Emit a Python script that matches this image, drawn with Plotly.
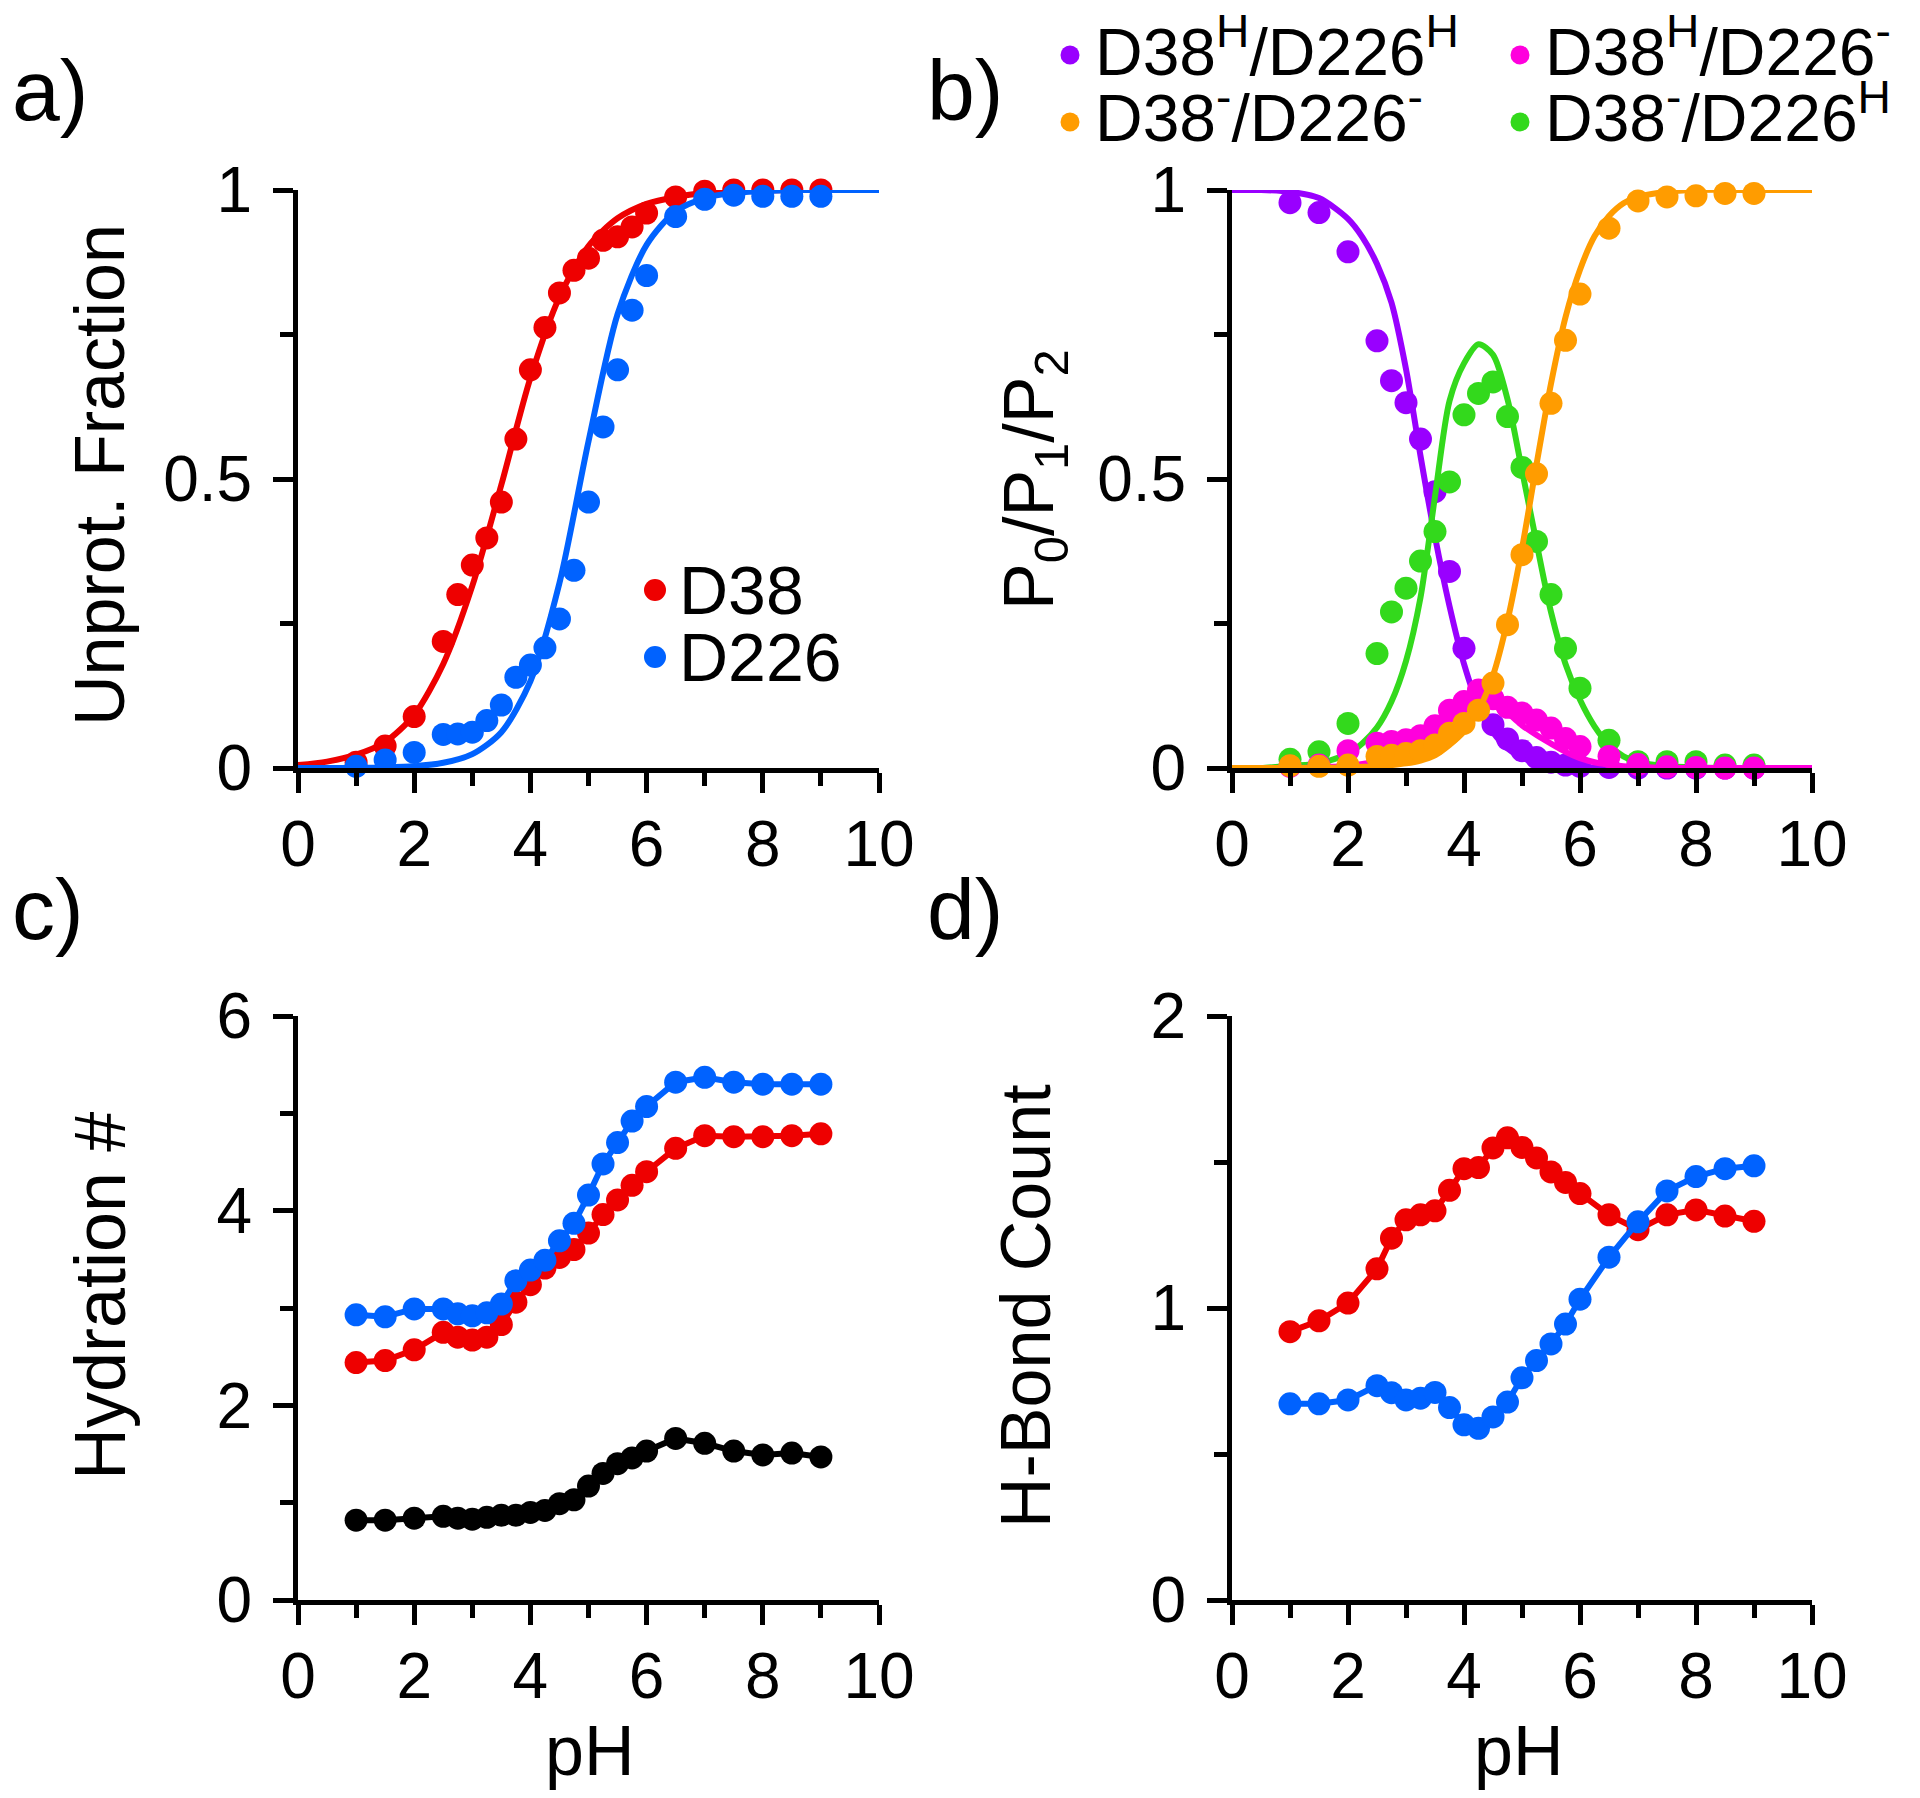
import plotly.graph_objects as go

# ---------------- data ----------------
ph_pts = [1, 1.5, 2, 2.5, 2.75, 3, 3.25, 3.5, 3.75, 4, 4.25, 4.5, 4.75, 5,
          5.25, 5.5, 5.75, 6, 6.5, 7, 7.5, 8, 8.5, 9]

# panel a: unprotonated fraction
d38_frac = [0.01, 0.038, 0.089, 0.219, 0.30, 0.351, 0.398, 0.46, 0.569, 0.689, 0.762, 0.822,
            0.861, 0.882, 0.913, 0.919, 0.936, 0.96, 0.988, 0.998, 1.0, 1.0, 1.0, 1.0]
d226_frac = [0.003, 0.014, 0.027, 0.058, 0.059, 0.062, 0.082, 0.109, 0.157, 0.178, 0.208, 0.258,
             0.342, 0.46, 0.59, 0.689, 0.792, 0.852, 0.954, 0.984, 0.991, 0.989, 0.989, 0.989]
fit_ph_a = [0, 0.5, 1, 1.5, 2, 2.5, 3, 3.5, 4, 4.5, 5, 5.5, 6, 6.5, 7, 7.5, 8, 8.5, 9, 9.5, 10]
d38_fit = [0.005, 0.011, 0.023, 0.045, 0.092, 0.18, 0.315, 0.49, 0.675, 0.815, 0.903, 0.951,
           0.976, 0.988, 0.995, 0.998, 0.999, 1, 1, 1, 1]
d226_fit = [0, 0, 0.0004, 0.001, 0.003, 0.009, 0.024, 0.062, 0.15, 0.32, 0.565, 0.785, 0.905,
            0.963, 0.986, 0.995, 0.998, 1, 1, 1, 1]

# panel b: microstate populations
p_hh = [0.978, 0.961, 0.893, 0.739, 0.67, 0.632, 0.569, 0.478, 0.34, 0.207, 0.12, 0.075,
        0.05, 0.03, 0.018, 0.01, 0.005, 0.003, 0.001, 0, 0, 0, 0, 0]
p_hd = [0.003, 0.005, 0.03, 0.043, 0.046, 0.049, 0.056, 0.073, 0.10, 0.115, 0.135, 0.12,
        0.105, 0.095, 0.083, 0.069, 0.051, 0.037, 0.02, 0.006, 0.002, 0.001, 0, 0]
p_dd = [0.004, 0.003, 0.005, 0.02, 0.022, 0.025, 0.03, 0.04, 0.06, 0.077, 0.10, 0.147,
        0.248, 0.369, 0.509, 0.631, 0.74, 0.82, 0.934, 0.981, 0.988, 0.99, 0.994, 0.994]
p_dh = [0.015, 0.028, 0.077, 0.198, 0.27, 0.311, 0.358, 0.409, 0.495, 0.611, 0.648, 0.668,
        0.608, 0.52, 0.392, 0.30, 0.207, 0.138, 0.048, 0.011, 0.011, 0.011, 0.005, 0.005]
fit_ph_b = [0, 0.5, 1, 1.5, 2, 2.25, 2.5, 2.75, 3, 3.25, 3.5, 3.75, 4, 4.25, 4.5, 4.75, 5,
            5.25, 5.5, 5.75, 6, 6.25, 6.5, 6.75, 7, 7.5, 8, 9, 10]
hh_fit = [1.0, 1.0, 0.997, 0.986, 0.95, 0.918, 0.872, 0.805, 0.69, 0.54, 0.40, 0.28, 0.18,
          0.107, 0.062, 0.034, 0.018, 0.009, 0.005, 0.002, 0.001, 0.0005, 0, 0, 0, 0, 0, 0, 0]
dh_fit = [0, 0, 0.004, 0.008, 0.025, 0.043, 0.07, 0.115, 0.185, 0.295, 0.47, 0.635, 0.70,
          0.733, 0.715, 0.638, 0.515, 0.39, 0.27, 0.18, 0.118, 0.072, 0.04, 0.02, 0.01,
          0.003, 0.001, 0, 0]
hd_fit = [0, 0, 0, 0.001, 0.004, 0.007, 0.012, 0.02, 0.03, 0.044, 0.062, 0.082, 0.1, 0.112,
          0.108, 0.095, 0.074, 0.057, 0.042, 0.028, 0.017, 0.01, 0.006, 0.003, 0.002, 0, 0, 0, 0]
dd_fit = [0, 0, 0, 0, 0.001, 0.002, 0.003, 0.005, 0.008, 0.013, 0.022, 0.04, 0.063, 0.1,
          0.16, 0.255, 0.38, 0.525, 0.665, 0.78, 0.862, 0.92, 0.955, 0.977, 0.988, 0.997, 1, 1, 1]

# panel c: hydration numbers
hyd_d38 = [2.44, 2.46, 2.57, 2.75, 2.70, 2.67, 2.70, 2.83, 3.06, 3.24, 3.41, 3.52, 3.60, 3.77,
           3.96, 4.11, 4.26, 4.40, 4.64, 4.77, 4.76, 4.76, 4.77, 4.79]
hyd_d226 = [2.93, 2.91, 2.99, 2.99, 2.94, 2.92, 2.95, 3.04, 3.28, 3.39, 3.49, 3.69, 3.87, 4.16,
            4.48, 4.70, 4.92, 5.07, 5.32, 5.37, 5.32, 5.30, 5.30, 5.30]
hyd_other = [0.82, 0.82, 0.84, 0.86, 0.84, 0.83, 0.85, 0.87, 0.87, 0.90, 0.92, 0.99, 1.03, 1.17,
             1.30, 1.40, 1.46, 1.53, 1.66, 1.61, 1.53, 1.49, 1.51, 1.47]

# panel d: H-bond counts
hb_d38 = [0.919, 0.956, 1.017, 1.134, 1.239, 1.302, 1.319, 1.333, 1.403, 1.477, 1.481, 1.548,
          1.583, 1.550, 1.514, 1.466, 1.430, 1.392, 1.319, 1.268, 1.319, 1.336, 1.315, 1.297]
hb_d226 = [0.672, 0.672, 0.685, 0.734, 0.710, 0.685, 0.691, 0.711, 0.659, 0.600, 0.588, 0.627,
           0.678, 0.761, 0.820, 0.877, 0.945, 1.030, 1.174, 1.295, 1.401, 1.450, 1.477, 1.487]

# ---------------- style ----------------
OFF = 8                      # page body margin of the html page
W, H = 1920 - OFF, 1798 - OFF
FONT = "Liberation Sans, Arial, Helvetica, sans-serif"
RED, BLUE, BLACK = "#EE0000", "#0062FF", "#000000"
PURPLE, MAGENTA, ORANGE, GREEN = "#9900FF", "#FF00DD", "#FF9C00", "#33D91C"
MS = 23
LW = 6
TICK_FS = 64
TITLE_FS = 70


def px(x):
    return (x - OFF) / W


def py(y):
    return 1 - (y - OFF) / H


fig = go.Figure()


def pts(x, y, color, xa, ya, lines=False):
    fig.add_trace(go.Scatter(
        x=x, y=y, mode="lines+markers" if lines else "markers",
        marker=dict(color=color, size=MS, line=dict(width=0)),
        line=dict(color=color, width=LW),
        xaxis=xa, yaxis=ya, cliponaxis=False, showlegend=False))


def fit(x, y, color, xa, ya):
    fig.add_trace(go.Scatter(
        x=x, y=y, mode="lines", line=dict(color=color, width=LW, shape="spline", smoothing=0.8),
        xaxis=xa, yaxis=ya, cliponaxis=False, showlegend=False))


# panel a
fit(fit_ph_a, d38_fit, RED, "x", "y")
pts(ph_pts, d38_frac, RED, "x", "y")
fit(fit_ph_a, d226_fit, BLUE, "x", "y")
pts(ph_pts, d226_frac, BLUE, "x", "y")

# panel b
fit(fit_ph_b, hh_fit, PURPLE, "x2", "y2")
pts(ph_pts, p_hh, PURPLE, "x2", "y2")
fit(fit_ph_b, dh_fit, GREEN, "x2", "y2")
pts(ph_pts, p_dh, GREEN, "x2", "y2")
fit(fit_ph_b, hd_fit, MAGENTA, "x2", "y2")
pts(ph_pts, p_hd, MAGENTA, "x2", "y2")
fit(fit_ph_b, dd_fit, ORANGE, "x2", "y2")
pts(ph_pts, p_dd, ORANGE, "x2", "y2")

# panel c
pts(ph_pts, hyd_other, BLACK, "x3", "y3", lines=True)
pts(ph_pts, hyd_d38, RED, "x3", "y3", lines=True)
pts(ph_pts, hyd_d226, BLUE, "x3", "y3", lines=True)

# panel d
pts(ph_pts, hb_d38, RED, "x4", "y4", lines=True)
pts(ph_pts, hb_d226, BLUE, "x4", "y4", lines=True)


def axis(domain, rng, dtick, mdtick, anchor, standoff):
    return dict(
        domain=domain, range=rng, dtick=dtick, tick0=0, anchor=anchor,
        automargin=False,
        showline=True, linecolor="black", linewidth=5, mirror=False,
        ticks="outside", ticklen=20, tickwidth=5, tickcolor="black",
        showgrid=False, zeroline=False, fixedrange=True,
        tickfont=dict(family=FONT, size=TICK_FS, color="black"),
        ticklabelstandoff=standoff,
        minor=dict(ticks="outside", ticklen=13, tickwidth=5, tickcolor="black",
                   dtick=mdtick, tick0=0, showgrid=False),
    )


XA = [px(298), px(879)]
XB = [px(1232), px(1812)]
YT = [py(768), py(190)]
YB = [py(1600), py(1016)]

fig.update_layout(
    template="none",
    width=W, height=H, margin=dict(l=0, r=0, t=0, b=0, pad=0, autoexpand=False),
    paper_bgcolor="white", plot_bgcolor="white", showlegend=False,
    xaxis=axis(XA, [0, 10], 2, 1, "y", -4),
    yaxis=axis(YT, [0, 1], 0.5, 0.25, "x", 8),
    xaxis2=axis(XB, [0, 10], 2, 1, "y2", -4),
    yaxis2=axis(YT, [0, 1], 0.5, 0.25, "x2", 8),
    xaxis3=axis(XA, [0, 10], 2, 1, "y3", -4),
    yaxis3=axis(YB, [0, 6], 2, 1, "x3", 8),
    xaxis4=axis(XB, [0, 10], 2, 1, "y4", -4),
    yaxis4=axis(YB, [0, 2], 1, 0.5, "x4", 8),
)

ann = []


def text(t, x, y, size, xanchor="center", yanchor="middle", angle=0):
    ann.append(dict(text=t, x=px(x), y=py(y), xref="paper", yref="paper",
                    xanchor=xanchor, yanchor=yanchor, showarrow=False, textangle=angle,
                    font=dict(family=FONT, size=size, color="black")))


# panel labels
for lab, x, y in [("a)", 10, 90), ("b)", 925, 90), ("c)", 10, 909), ("d)", 925, 909)]:
    text(lab, x, y, 86, xanchor="left")

# axis titles
text("Unprot. Fraction", 100, 475, TITLE_FS, angle=-90)
text("P<sub>0</sub>/P<sub>1</sub>/P<sub>2</sub>", 1034, 480, TITLE_FS, angle=-90)
text("Hydration #", 100, 1296, 72, angle=-90)
text("H-Bond Count", 1026, 1306, TITLE_FS, angle=-90)
text("pH", 589, 1751, TITLE_FS)
text("pH", 1518, 1751, TITLE_FS)

# legends (text + swatch dots)
shapes = []
legend_items = [
    ("D38", RED, 655, 590, 677, 590, 22, 68),
    ("D226", BLUE, 655, 657, 677, 657, 22, 68),
    ("D38<sup>H</sup>/D226<sup>H</sup>", PURPLE, 1070, 55, 1093, 47, 19, 66),
    ("D38<sup>-</sup>/D226<sup>-</sup>", ORANGE, 1070, 122, 1093, 113, 19, 66),
    ("D38<sup>H</sup>/D226<sup>-</sup>", MAGENTA, 1520, 55, 1543, 47, 19, 66),
    ("D38<sup>-</sup>/D226<sup>H</sup>", GREEN, 1520, 122, 1543, 113, 19, 66),
]
for label, color, dx, dy, tx, ty, d, fs in legend_items:
    r = d / 2
    shapes.append(dict(type="circle", xref="paper", yref="paper",
                       xsizemode="pixel", ysizemode="pixel",
                       xanchor=px(dx), yanchor=py(dy), x0=-r, x1=r, y0=-r, y1=r,
                       fillcolor=color, line=dict(width=0)))
    text(label, tx, ty, fs, xanchor="left")

fig.update_layout(annotations=ann, shapes=shapes)
fig.write_html("out.html")
